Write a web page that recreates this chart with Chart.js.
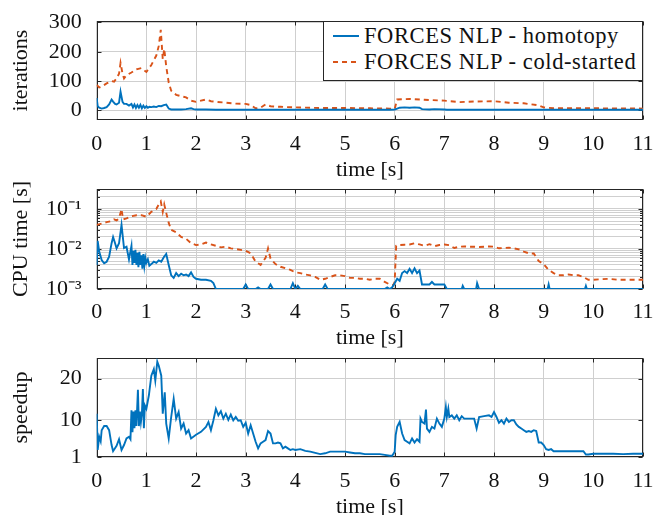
<!DOCTYPE html>
<html><head><meta charset="utf-8">
<script src="https://cdn.jsdelivr.net/npm/chart.js@4.4.1/dist/chart.umd.min.js"></script>
<style>
html,body{margin:0;padding:0;background:#fff;overflow:hidden;width:654px;height:515px}
canvas{position:absolute;left:0}
#legend{position:absolute;left:323px;top:21px;width:320px;height:60px;border:1px solid #262626;background:#fff;box-sizing:border-box;font-family:"Liberation Serif",serif;font-size:22.5px;letter-spacing:0.6px;color:#111}
#legend .row{position:absolute;left:9px;height:26px;line-height:26px;white-space:nowrap}
#legend svg{vertical-align:middle;margin-right:5px}
#legend span{vertical-align:middle}
</style>
</head><body>
<canvas id="c1" width="654" height="183" style="top:0px"></canvas>
<canvas id="c2" width="654" height="181" style="top:170px"></canvas>
<canvas id="c3" width="654" height="180" style="top:340px"></canvas>
<div id="legend">
  <div class="row" style="top:-1px"><svg width="26" height="4"><line x1="0" y1="2" x2="26" y2="2" stroke="#0072BD" stroke-width="2"/></svg><span id="lg1"></span></div>
  <div class="row" style="top:25px"><svg width="26" height="4"><line x1="0" y1="2" x2="26" y2="2" stroke="#D95319" stroke-width="2" stroke-dasharray="5,4"/></svg><span id="lg2"></span></div>
</div>
<script>
// ---------- data (time [s], value) ----------
const seriesNames = ['FORCES NLP - homotopy', 'FORCES NLP - cold-started'];
const timeTicks = [0,1,2,3,4,5,6,7,8,9,10,11];
const iterTicks = [0,100,200,300];
const cpuMajorTicks = [0.001,0.01,0.1];
const cpuTickLabels = ['10\u207B\u00B3','10\u207B\u00B2','10\u207B\u00B9'];
const cpuMinorTicks = [0.002,0.003,0.004,0.005,0.006,0.007,0.008,0.009,0.02,0.03,0.04,0.05,0.06,0.07,0.08,0.09,0.2,0.3];
const speedTicks = [1,10,20];

const iterHomotopy = [[0,42],[0.02,14],[0.05,9],[0.1,6],[0.15,8],[0.2,11],[0.25,20],[0.3,37],[0.33,30],[0.37,22],[0.4,20],[0.45,26],[0.48,64],[0.52,29],[0.55,22],[0.6,22],[0.65,16],[0.7,22],[0.73,10],[0.76,20],[0.79,8],[0.82,18],[0.85,9],[0.88,19],[0.91,7],[0.94,16],[0.97,8],[1.0,14],[1.03,9],[1.06,12],[1.1,11],[1.15,13],[1.2,11],[1.25,15],[1.3,14],[1.35,18],[1.4,20],[1.45,6],[1.5,3],[1.6,3],[1.7,3],[1.8,4],[1.9,7],[1.95,4],[2.0,3],[2.2,3],[2.4,2],[2.6,2],[3.0,2],[3.5,2],[4.0,2],[5.0,2],[5.9,2],[6.0,3],[6.05,6],[6.1,9],[6.2,10],[6.3,9],[6.4,10],[6.5,9],[6.55,4],[6.7,3],[6.8,4],[7.0,3],[7.05,2],[8,2],[9,2],[10,2],[11,2]];
const iterCold = [[0,87],[0.05,78],[0.1,81],[0.2,92],[0.3,100],[0.35,98],[0.4,109],[0.45,125],[0.48,162],[0.52,125],[0.55,109],[0.6,120],[0.7,129],[0.8,140],[0.9,144],[1.0,131],[1.1,155],[1.2,187],[1.25,220],[1.29,275],[1.33,175],[1.36,210],[1.4,150],[1.45,95],[1.5,67],[1.6,53],[1.7,48],[1.8,44],[1.9,33],[2.0,29],[2.1,33],[2.2,37],[2.3,31],[2.4,29],[2.6,26],[2.8,23],[3.0,22],[3.1,18],[3.2,7],[3.3,9],[3.4,20],[3.5,14],[3.7,12],[4.0,10],[4.5,8],[5.0,8],[5.5,7],[5.9,6],[6.0,5],[6.05,37],[6.3,39],[6.6,36],[7.0,33],[7.3,28],[7.6,30],[8.0,31],[8.3,26],[8.6,24],[8.9,17],[9.0,10],[9.2,7],[10,7],[11,6]];
const cpuHomotopy = [[0,0.004],[0.02,0.016],[0.05,0.0086],[0.1,0.0053],[0.15,0.0044],[0.2,0.0048],[0.25,0.0064],[0.3,0.014],[0.33,0.02],[0.37,0.0139],[0.4,0.0104],[0.45,0.014],[0.5,0.04],[0.55,0.0106],[0.6,0.0114],[0.65,0.0055],[0.7,0.012],[0.72,0.004],[0.74,0.009],[0.76,0.0045],[0.78,0.0095],[0.8,0.004],[0.82,0.008],[0.84,0.0035],[0.86,0.0085],[0.88,0.004],[0.9,0.007],[0.92,0.0032],[0.94,0.0075],[0.96,0.0038],[0.98,0.006],[1.0,0.0045],[1.03,0.0055],[1.06,0.0038],[1.1,0.0042],[1.15,0.0048],[1.2,0.0045],[1.25,0.0052],[1.3,0.0048],[1.35,0.0062],[1.4,0.0075],[1.45,0.004],[1.5,0.0022],[1.55,0.0019],[1.6,0.0025],[1.65,0.0021],[1.7,0.0024],[1.75,0.0022],[1.8,0.0023],[1.85,0.0021],[1.9,0.0026],[1.95,0.002],[2.0,0.0018],[2.1,0.0017],[2.2,0.0017],[2.3,0.0016],[2.35,0.0014],[2.4,0.001],[2.95,0.001],[3.0,0.0013],[3.05,0.001],[3.2,0.001],[3.25,0.0011],[3.3,0.001],[3.45,0.001],[3.5,0.0013],[3.55,0.001],[3.9,0.001],[3.95,0.0014],[4.0,0.001],[4.05,0.0012],[4.1,0.001],[4.55,0.001],[4.6,0.0013],[4.65,0.001],[5.8,0.001],[5.85,0.0011],[5.9,0.001],[5.95,0.0011],[6.0,0.0014],[6.05,0.0018],[6.1,0.0016],[6.15,0.0025],[6.2,0.0028],[6.25,0.0025],[6.3,0.0032],[6.35,0.0025],[6.4,0.0033],[6.45,0.0025],[6.5,0.0029],[6.55,0.0013],[6.6,0.0013],[6.7,0.0013],[6.75,0.0015],[6.8,0.0013],[7.0,0.0013],[7.05,0.001],[7.35,0.001],[7.37,0.0012],[7.4,0.001],[7.64,0.001],[7.66,0.0014],[7.7,0.001],[9.08,0.001],[9.1,0.0013],[9.12,0.001],[9.83,0.001],[9.85,0.0012],[9.87,0.001],[11,0.001]];
const cpuCold = [[0,0.04],[0.1,0.043],[0.2,0.047],[0.3,0.05],[0.35,0.055],[0.4,0.052],[0.45,0.058],[0.5,0.1],[0.53,0.055],[0.6,0.058],[0.7,0.066],[0.8,0.07],[0.9,0.07],[1.0,0.064],[1.1,0.085],[1.2,0.1],[1.25,0.13],[1.29,0.155],[1.33,0.085],[1.36,0.13],[1.4,0.08],[1.45,0.045],[1.5,0.03],[1.6,0.026],[1.7,0.02],[1.8,0.018],[1.9,0.014],[2.0,0.0125],[2.1,0.013],[2.2,0.0145],[2.3,0.013],[2.4,0.012],[2.5,0.011],[2.6,0.0114],[2.7,0.0104],[2.8,0.01],[2.9,0.0095],[3.0,0.009],[3.1,0.0078],[3.2,0.0048],[3.3,0.004],[3.4,0.006],[3.45,0.0104],[3.5,0.0058],[3.6,0.0042],[3.7,0.0036],[3.8,0.0033],[3.9,0.003],[4.0,0.0026],[4.1,0.0025],[4.2,0.0023],[4.3,0.0022],[4.4,0.002],[4.5,0.0017],[4.6,0.0018],[4.7,0.002],[4.8,0.0022],[4.9,0.0022],[5.0,0.0021],[5.1,0.0019],[5.2,0.0019],[5.3,0.0018],[5.4,0.0018],[5.5,0.0017],[5.6,0.0018],[5.7,0.0018],[5.8,0.0015],[5.9,0.0013],[5.97,0.00125],[6.0,0.0015],[6.03,0.012],[6.1,0.0126],[6.2,0.0128],[6.3,0.013],[6.4,0.0139],[6.5,0.013],[6.6,0.012],[6.7,0.0132],[6.8,0.0118],[6.9,0.0126],[7.0,0.013],[7.1,0.0125],[7.2,0.0106],[7.3,0.0114],[7.4,0.0116],[7.5,0.0114],[7.6,0.0114],[7.7,0.0112],[7.8,0.0114],[7.9,0.0116],[8.0,0.0114],[8.1,0.0104],[8.2,0.0106],[8.3,0.0108],[8.4,0.0104],[8.5,0.0098],[8.6,0.0086],[8.7,0.0078],[8.8,0.0077],[8.9,0.005],[9.0,0.0042],[9.1,0.003],[9.2,0.0025],[9.3,0.0022],[9.4,0.0022],[9.5,0.0023],[9.6,0.0022],[9.7,0.0022],[9.8,0.002],[9.9,0.0017],[10.0,0.0017],[10.3,0.0018],[10.5,0.0017],[11,0.0017]];
const speedup = [[0,11.5],[0.02,2.7],[0.05,5.9],[0.08,4.8],[0.1,7.5],[0.15,8.5],[0.2,8.5],[0.25,7.5],[0.3,3.9],[0.33,2.4],[0.4,3.7],[0.45,5.3],[0.5,2.7],[0.55,3.9],[0.6,5.5],[0.65,5.9],[0.68,5.3],[0.7,12.3],[0.72,7.0],[0.74,12.0],[0.76,8.0],[0.78,12.3],[0.8,8.5],[0.83,17.3],[0.85,8.5],[0.87,12.0],[0.89,9.5],[0.91,11.5],[0.93,17.5],[0.95,8.0],[0.97,13.5],[1.0,12.7],[1.05,15.9],[1.1,20.7],[1.15,22.3],[1.18,19.5],[1.22,24.1],[1.25,23.1],[1.3,20.7],[1.33,11.5],[1.37,16.7],[1.4,9.1],[1.45,5.5],[1.5,10.7],[1.55,15.1],[1.6,10.3],[1.65,11.9],[1.7,7.9],[1.75,9.1],[1.8,6.7],[1.85,7.5],[1.9,5.5],[2.0,6.4],[2.1,7.1],[2.2,8.3],[2.25,9.5],[2.3,7.5],[2.35,9.9],[2.4,12.7],[2.45,11.1],[2.5,12.1],[2.55,10.3],[2.6,11.5],[2.65,10.0],[2.7,11.3],[2.75,9.9],[2.8,10.7],[2.85,9.8],[2.9,9.9],[2.95,8.3],[3.0,9.3],[3.05,6.7],[3.1,8.7],[3.15,6.7],[3.2,4.7],[3.25,3.1],[3.3,4.3],[3.35,4.7],[3.4,5.1],[3.45,7.3],[3.5,6.7],[3.55,4.3],[3.6,4.3],[3.65,4.5],[3.7,4.3],[3.75,3.1],[3.8,3.5],[3.85,3.1],[3.9,2.7],[3.95,2.9],[4.0,2.7],[4.1,2.9],[4.2,2.5],[4.3,2.3],[4.4,2.0],[4.5,1.7],[4.6,1.9],[4.7,2.3],[4.8,2.3],[4.9,2.3],[5.0,2.3],[5.1,2.1],[5.2,1.9],[5.3,1.9],[5.4,1.7],[5.5,1.7],[5.6,1.7],[5.7,1.7],[5.8,1.5],[5.9,1.3],[5.95,1.3],[6.0,2.3],[6.02,6.3],[6.05,8.3],[6.1,9.5],[6.15,6.7],[6.2,5.1],[6.25,4.7],[6.3,4.3],[6.35,5.5],[6.4,4.5],[6.45,5.3],[6.5,4.7],[6.52,10.3],[6.55,9.5],[6.6,9.1],[6.63,12.5],[6.65,7.9],[6.7,7.1],[6.75,8.3],[6.8,7.9],[6.85,10.3],[6.9,9.1],[6.95,8.3],[7.0,10.3],[7.03,13.1],[7.05,10.7],[7.08,12.7],[7.1,10.7],[7.15,11.1],[7.2,10.3],[7.25,11.1],[7.3,9.9],[7.35,10.9],[7.4,10.3],[7.5,10.3],[7.6,10.3],[7.65,7.9],[7.7,10.7],[7.8,10.9],[7.9,11.1],[7.95,10.7],[8.0,11.9],[8.05,10.7],[8.1,9.3],[8.15,9.9],[8.2,9.1],[8.25,10.3],[8.3,9.5],[8.35,9.9],[8.4,9.9],[8.45,8.9],[8.5,8.3],[8.55,7.9],[8.6,7.5],[8.65,7.1],[8.7,7.3],[8.75,7.1],[8.8,7.5],[8.85,7.3],[8.9,4.5],[8.95,4.5],[9.0,3.9],[9.05,2.9],[9.1,2.7],[9.15,2.9],[9.2,2.4],[9.3,2.4],[9.4,2.4],[9.5,2.4],[9.6,2.4],[9.7,2.4],[9.8,2.4],[9.85,1.6],[9.9,1.6],[10.0,1.8],[10.2,1.8],[10.4,1.8],[10.6,1.7],[10.8,1.8],[11.0,1.8]];

// ---------- styling ----------
const FONT = '"Liberation Serif", "Times New Roman", serif';
const FS = 22;
const BLUE = '#0072BD', ORANGE = '#D95319';
const GRID = '#cfcfcf', AXIS = '#262626', TEXT = '#111';

document.getElementById('lg1').textContent = seriesNames[0];
document.getElementById('lg2').textContent = seriesNames[1];

const pts = arr => arr.map(p => ({x: p[0], y: p[1]}));

const framePlugin = {
  id: 'frame',
  beforeDatasetsDraw(chart) {
    const {ctx, chartArea: a, scales} = chart;
    const L = Math.round(a.left) + 0.5, R = Math.round(a.right) - 0.5;
    const T = Math.round(a.top) + 0.5, B = Math.round(a.bottom) - 0.5;
    ctx.save();
    ctx.strokeStyle = AXIS; ctx.lineWidth = 1;
    ctx.beginPath();
    scales.x.ticks.forEach(t => {
      const p = Math.round(scales.x.getPixelForValue(t.value)) + 0.5;
      ctx.moveTo(p, B); ctx.lineTo(p, B - 4); ctx.moveTo(p, T); ctx.lineTo(p, T + 4);
    });
    scales.y.ticks.forEach(t => {
      const p = Math.round(scales.y.getPixelForValue(t.value)) + 0.5;
      const len = t.minor ? 2.5 : 4;
      ctx.moveTo(L, p); ctx.lineTo(L + len, p); ctx.moveTo(R, p); ctx.lineTo(R - len, p);
    });
    ctx.stroke();
    ctx.strokeRect(L, T, R - L, B - T);
    ctx.restore();
  }
};

function makeChart(id, o) {
  return new Chart(document.getElementById(id), {
    type: 'line',
    data: {datasets: o.datasets},
    options: {
      responsive: false, animation: false, devicePixelRatio: 1,
      layout: {padding: {top: o.padTop, left: 0, right: 11, bottom: 0}},
      plugins: {legend: {display: false}, tooltip: {enabled: false}},
      elements: {point: {radius: 0}, line: {tension: 0, borderWidth: 1.8}},
      scales: {
        x: {
          type: 'linear', min: 0, max: 11,
          afterBuildTicks: s => { s.ticks = timeTicks.map(v => ({value: v})); },
          afterFit: s => { s.height = o.xHeight; s.paddingLeft = 0; s.paddingRight = 0; },
          grid: {color: GRID, drawTicks: false, lineWidth: 1},
          border: {display: false},
          ticks: {font: {family: FONT, size: FS}, color: TEXT, padding: o.xPad, maxRotation: 0, autoSkip: false},
          title: {display: true, text: 'time [s]', font: {family: FONT, size: FS}, color: TEXT, padding: {top: 0, bottom: 0}}
        },
        y: Object.assign({
          afterFit: s => { s.width = 96.7; s.paddingTop = 0; s.paddingBottom = 0; },
          grid: {color: GRID, drawTicks: false, lineWidth: 1},
          border: {display: false},
          title: {display: true, text: o.yTitle, font: {family: FONT, size: FS}, color: TEXT, padding: {top: 8, bottom: 0}}
        }, o.y)
      }
    },
    plugins: [framePlugin]
  });
}

makeChart('c1', {
  padTop: 21, xHeight: 63, xPad: 11, yTitle: 'iterations',
  datasets: [
    {data: pts(iterHomotopy), borderColor: BLUE, borderWidth: 1.9},
    {data: pts(iterCold), borderColor: ORANGE, borderWidth: 1.9, borderDash: [5, 4]}
  ],
  y: {
    type: 'linear', min: -33, max: 305,
    afterBuildTicks: s => { s.ticks = iterTicks.map(v => ({value: v})); },
    ticks: {font: {family: FONT, size: FS}, color: TEXT, padding: 15, callback: v => String(v)}
  }
});

makeChart('c2', {
  padTop: 19, xHeight: 62, xPad: 10, yTitle: 'CPU time [s]',
  datasets: [
    {data: pts(cpuHomotopy), borderColor: BLUE, borderWidth: 1.9},
    {data: pts(cpuCold), borderColor: ORANGE, borderWidth: 1.9, borderDash: [5, 4]}
  ],
  y: {
    type: 'logarithmic', min: 0.001, max: 0.3162, bounds: 'data',
    afterBuildTicks: s => {
      const t = cpuMajorTicks.map(v => ({value: v, minor: false})).concat(cpuMinorTicks.map(v => ({value: v, minor: true})));
      t.sort((a, b) => a.value - b.value);
      s.ticks = t;
    },
    ticks: {font: {family: FONT, size: FS}, color: TEXT, padding: 15, autoSkip: false,
      callback: v => { const i = cpuMajorTicks.findIndex(m => Math.abs(m - v) < 1e-9); return i >= 0 ? cpuTickLabels[i] : ''; }}
  }
});

makeChart('c3', {
  padTop: 18, xHeight: 63, xPad: 11, yTitle: 'speedup',
  datasets: [
    {data: pts(speedup), borderColor: BLUE, borderWidth: 1.9}
  ],
  y: {
    type: 'linear', min: 1, max: 25,
    afterBuildTicks: s => { s.ticks = speedTicks.map(v => ({value: v})); },
    ticks: {font: {family: FONT, size: FS}, color: TEXT, padding: 15, callback: v => String(v)}
  }
});
</script>
</body></html>
